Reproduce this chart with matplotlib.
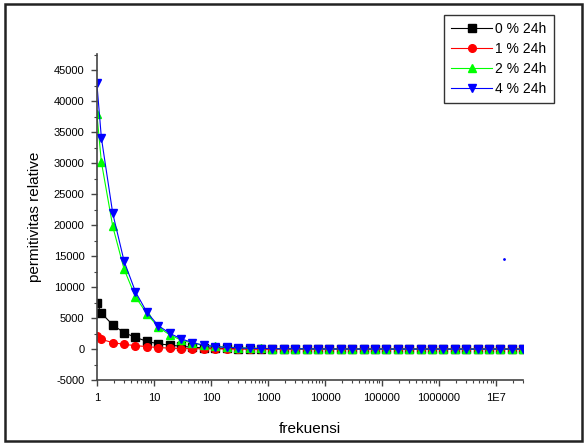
import matplotlib
matplotlib.use("Agg")
import matplotlib.pyplot as plt
from matplotlib.patches import Rectangle
from matplotlib.ticker import FixedLocator, FixedFormatter, MultipleLocator, LogLocator, NullFormatter

plt.rcParams["font.family"] = ["Liberation Sans", "DejaVu Sans"]
plt.rcParams["axes.unicode_minus"] = False

# frequency points (Hz)
freq = [1, 1.2, 1.9, 3.0, 4.75, 7.53, 11.9, 18.9, 30, 47.5, 75.3, 119, 189, 300, 475, 753,
        1190, 1890, 3000, 4750, 7530, 11900, 18900, 30000, 47500, 75300, 119000, 189000,
        300000, 475000, 753000, 1190000, 1890000, 3000000, 4750000, 7530000, 11900000,
        18900000, 30000000]

eps_0 = [7400, 5800, 3900, 2650, 1900, 1250, 850, 650, 450, 300, 200, 140, 100, 70, 50, 40,
         30, 25, 20, 15, 12, 10, 8, 6, 5, 4, 3, 2, 2, 1, 1, 1, 1, 0, 0, 0, 0, 0, 0]
eps_1 = [2100, 1560, 1050, 760, 560, 400, 250, 150, 90, 60, 40, 30, 20, 15, 10, 8,
         6, 5, 4, 3, 2, 2, 1, 1, 1, 1, 0, 0, 0, 0, 0, 0, 0, 0, 0, 0, 0, 0, 0]
eps_2 = [38000, 30200, 19800, 12900, 8450, 5700, 3550, 2300, 1450, 950, 650, 450, 320, 230, 160, 110,
         80, 60, 45, 35, 25, 20, 15, 12, 10, 8, 6, 5, 4, 3, 3, 2, 2, 2, 1, 1, 1, 1, 1]
eps_4 = [42900, 34100, 21900, 14200, 9250, 5950, 3800, 2550, 1650, 1050, 600, 400, 270, 190, 130, 90,
         65, 50, 40, 30, 22, 18, 14, 11, 9, 7, 6, 5, 4, 3, 3, 2, 2, 2, 1, 1, 1, 1, 1]

# lone stray point seen in the original plot
stray_x = [1.35e7]
stray_y = [14500]

series = [
    (eps_0, "0 % 24h", "black", "s"),
    (eps_1, "1 % 24h", "red", "o"),
    (eps_2, "2 % 24h", "#00ff00", "^"),
    (eps_4, "4 % 24h", "blue", "v"),
]

xticks = [1, 10, 100, 1000, 10000, 100000, 1000000, 10000000]
xticklabels = ["1", "10", "100", "1000", "10000", "100000", "1000000", "1E7"]

fig = plt.figure(figsize=(5.87, 4.44), dpi=100)
ax = fig.add_axes([0.165, 0.144, 0.7265, 0.734])

for vals, label, color, marker in series:
    ax.plot(freq, vals, color=color, marker=marker, linestyle="-", lw=0.8,
            markersize=5.5, label=label)
ax.plot(stray_x, stray_y, color="blue", marker=".", markersize=2, linestyle="none")

ax.set_xscale("log")
ax.set_xlim(1, 3e7)
ax.set_ylim(-5000, 47600)

ax.xaxis.set_major_locator(FixedLocator(xticks))
ax.xaxis.set_major_formatter(FixedFormatter(xticklabels))
ax.xaxis.set_minor_locator(LogLocator(base=10, subs=range(2, 10), numticks=20))
ax.xaxis.set_minor_formatter(NullFormatter())
ax.yaxis.set_major_locator(MultipleLocator(5000))
ax.yaxis.set_minor_locator(MultipleLocator(2500))
ax.set_yticks(range(-5000, 45001, 5000))

for side in ("top", "right"):
    ax.spines[side].set_visible(False)
for side in ("left", "bottom"):
    ax.spines[side].set_color("#444444")
    ax.spines[side].set_linewidth(1.2)

ax.tick_params(axis="both", which="major", direction="out", length=4, width=1,
               color="#444444", labelsize=8, pad=5)
ax.tick_params(axis="both", which="minor", direction="out", length=2.5, width=0.8,
               color="#444444")

ax.set_xlabel("frekuensi", fontsize=11, labelpad=14)
ax.set_ylabel("permitivitas relative", fontsize=11, labelpad=8)

leg = fig.legend(loc="upper right", bbox_to_anchor=(0.943, 0.967), fontsize=10,
                 frameon=True, fancybox=False, edgecolor="black", handlelength=3.0,
                 handletextpad=0.2, borderpad=0.5, labelspacing=0.45, borderaxespad=0)
leg.get_frame().set_linewidth(1.0)

fig.patches.append(Rectangle((0.008, 0.007), 0.983, 0.984, transform=fig.transFigure,
                             fill=False, edgecolor="#222222", linewidth=1.8))

fig.savefig("out.png", dpi=100)
